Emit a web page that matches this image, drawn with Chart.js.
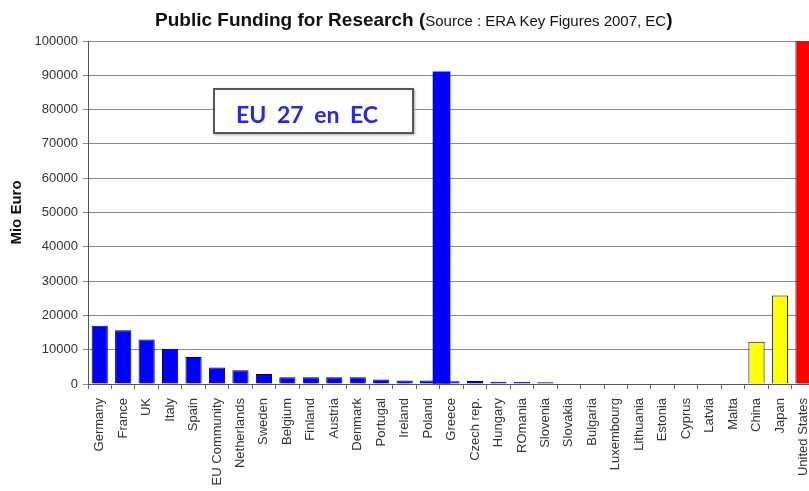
<!DOCTYPE html>
<html>
<head>
<meta charset="utf-8">
<script src="https://cdn.jsdelivr.net/npm/chart.js@4.4.1/dist/chart.umd.min.js"></script>
<style>
  body { margin: 0; background: #fff; }
  #wrap { position: relative; width: 809px; height: 491px; overflow: hidden; }
  #title { position: absolute; left: 155px; top: 9px; white-space: nowrap;
           font-family: "Liberation Sans", Arial, sans-serif; color: #111; }
  #title .big { font-size: 19px; font-weight: bold; }
  #title .small { font-size: 15px; }
  #note { position: absolute; left: 213px; top: 88px; width: 176px; height: 42px;
          border: 2px solid #555; background: #fff; box-shadow: 1px 1px 2px #aaa;
          font-family: Lato, "Open Sans", sans-serif; font-size: 23px; font-weight: bold; color: #2a2ad8;
          line-height: 42px; padding-left: 21px; word-spacing: 5px; overflow: hidden; }
  #note span { position: relative; top: 3px; }
</style>
</head>
<body>
<div id="wrap">
  <canvas id="canvas" width="828" height="491"></canvas>
  <div id="title"><span class="big">Public Funding for Research (</span><span class="small">Source : ERA Key Figures 2007, EC</span><span class="big">)</span></div>
  <div id="note"><span>EU 27 en EC</span></div>
</div>
<script>
  // countries and public research funding (Mio Euro)
  var countries = ['Germany', 'France', 'UK', 'Italy', 'Spain', 'EU Community', 'Netherlands', 'Sweden',
    'Belgium', 'Finland', 'Austria', 'Denmark', 'Portugal', 'Ireland', 'Poland', 'Greece', 'Czech rep.',
    'Hungary', 'ROmania', 'Slovenia', 'Slovakia', 'Bulgaria', 'Luxembourg', 'Lithuania', 'Estonia',
    'Cyprus', 'Latvia', 'Malta', 'China', 'Japan', 'United States'];
  var funding = [17000, 15700, 13000, 10300, 7900, 4800, 4000, 2900,
    2000, 2000, 2000, 2000, 1300, 1000, 1000, 800, 850,
    650, 600, 500, 0, 0, 0, 0, 0,
    0, 0, 0, 12300, 25800, 110000];
  var region = ['EU', 'EU', 'EU', 'EU', 'EU', 'EU', 'EU', 'EU',
    'EU', 'EU', 'EU', 'EU', 'EU', 'EU', 'EU', 'EU', 'EU',
    'EU', 'EU', 'EU', 'EU', 'EU', 'EU', 'EU', 'EU',
    'EU', 'EU', 'EU', 'Asia', 'Asia', 'US'];
  // EU 27 + EC total, drawn between Poland and Greece
  var eu27Pos = 14.5;
  var eu27Total = 91000;

  var yTicks = [0, 10000, 20000, 30000, 40000, 50000, 60000, 70000, 80000, 90000, 100000];

  var fillColors = { EU: '#0000ff', Asia: '#ffff00', US: '#ff0000' };
  var lineColors = { EU: '#000050', Asia: '#000000', US: '#ff0000' };

  var tickFont = { family: '"Liberation Sans", Arial, sans-serif', size: 13 };

  var ctx = document.getElementById('canvas').getContext('2d');
  window.myBar = new Chart(ctx, {
    type: 'bar',
    data: {
      labels: countries,
      datasets: [
        {
          label: 'Funding',
          data: funding,
          backgroundColor: region.map(function (r) { return fillColors[r]; }),
          borderColor: region.map(function (r) { return lineColors[r]; }),
          borderWidth: 1,
          borderSkipped: 'bottom',
          categoryPercentage: 1,
          barPercentage: 0.69,
          grouped: false
        },
        {
          label: 'EU 27',
          data: [{ x: eu27Pos, y: eu27Total }],
          xAxisID: 'x2',
          backgroundColor: '#0000ff',
          borderWidth: 0,
          barThickness: 17,
          grouped: false
        }
      ]
    },
    options: {
      responsive: false,
      animation: false,
      layout: { padding: { top: 41, right: 0, left: 0, bottom: 0 } },
      plugins: { legend: { display: false }, tooltip: { enabled: false }, title: { display: false } },
      scales: {
        x: {
          type: 'category',
          grid: { offset: true, drawOnChartArea: false, color: '#666', tickLength: 5 },
          border: { color: '#555', width: 1 },
          ticks: { autoSkip: false, minRotation: 90, maxRotation: 90, padding: 9, color: '#333', font: tickFont },
          afterFit: function (scale) { scale.height = 107; }
        },
        x2: {
          type: 'linear',
          display: false,
          min: -0.5,
          max: countries.length - 0.5
        },
        y: {
          min: 0,
          max: 100000,
          afterBuildTicks: function (scale) { scale.ticks = yTicks.map(function (v) { return { value: v }; }); },
          grid: { color: '#888', lineWidth: 1, tickLength: 5 },
          border: { color: '#555', width: 1 },
          ticks: {
            color: '#333',
            font: tickFont,
            padding: 5,
            callback: function (v) { return String(v); }
          },
          title: {
            display: true,
            text: 'Mio Euro',
            color: '#111',
            font: { family: '"Liberation Sans", Arial, sans-serif', size: 15, weight: 'bold' },
            padding: { top: 8, bottom: 0 }
          },
          afterFit: function (scale) { scale.width = 88; }
        }
      }
    }
  });
</script>
</body>
</html>
